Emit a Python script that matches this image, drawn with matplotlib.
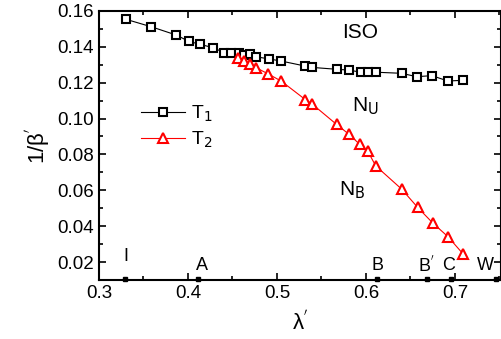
import numpy as np
import matplotlib.pyplot as plt
from matplotlib.ticker import MultipleLocator

plt.rcParams['font.family'] = ['Liberation Sans', 'DejaVu Sans']

# T1 : isotropic / nematic boundary
lam1 = [0.331, 0.359, 0.387, 0.401, 0.414, 0.428, 0.441, 0.448, 0.457, 0.463, 0.470, 0.477,
        0.491, 0.505, 0.532, 0.539, 0.568, 0.581, 0.594, 0.602, 0.611, 0.640, 0.657, 0.674,
        0.692, 0.709]
inv1 = [0.1552, 0.1511, 0.1465, 0.1430, 0.1413, 0.1395, 0.1367, 0.1367, 0.1363, 0.1355,
        0.1358, 0.1344, 0.1332, 0.1320, 0.1292, 0.1285, 0.1274, 0.1270, 0.1258, 0.1258,
        0.1258, 0.1252, 0.1233, 0.1239, 0.1209, 0.1213]

# T2 : uniaxial / biaxial nematic boundary
lam2 = [0.456, 0.463, 0.470, 0.477, 0.490, 0.505, 0.532, 0.539, 0.567, 0.581, 0.593,
        0.602, 0.611, 0.640, 0.658, 0.675, 0.692, 0.709]
inv2 = [0.1340, 0.1318, 0.1304, 0.1282, 0.1249, 0.1208, 0.1105, 0.1083, 0.0967, 0.0912,
        0.0856, 0.0818, 0.0736, 0.0607, 0.0505, 0.0418, 0.0342, 0.0246]

# special points on the lambda' axis
pts_x = [0.329, 0.411, 0.612, 0.669, 0.6955, 0.7457]
pts_lab = ['I', 'A', 'B', "B$^{'}$", 'C', 'W']
lab_x = [0.330, 0.4154, 0.6135, 0.668, 0.6933, 0.7337]
lab_y = [0.023, 0.0183, 0.0183, 0.0183, 0.0183, 0.0183]

fig = plt.figure(figsize=(5.02, 3.39), dpi=100)
ax = fig.add_axes([0.197, 0.174, 0.801, 0.794])

ax.plot(lam1, inv1, 'k-', lw=0.8, marker='s', ms=6, mfc='white', mec='black', mew=1.5,
        label='T$_1$')
ax.plot(lam2, inv2, 'r-', lw=0.8, marker='^', ms=7.5, mfc='white', mec='red', mew=1.5,
        label='T$_2$')

ax.plot(pts_x, [0.0108] * len(pts_x), 'ks', ms=3, clip_on=False, zorder=5)
for x, y, s in zip(lab_x, lab_y, pts_lab):
    ax.text(x, y, s, ha='center', va='center', fontsize=13)

ax.text(0.593, 0.148, 'ISO', ha='center', va='center', fontsize=15)
ax.text(0.599, 0.107, 'N$_\\mathrm{U}$', ha='center', va='center', fontsize=15)
ax.text(0.584, 0.060, 'N$_\\mathrm{B}$', ha='center', va='center', fontsize=15)

ax.set_xlim(0.3, 0.7517)
ax.set_ylim(0.01, 0.16)
ax.xaxis.set_minor_locator(MultipleLocator(0.05))
ax.yaxis.set_minor_locator(MultipleLocator(0.01))
ax.set_yticks(np.arange(0.02, 0.161, 0.02))
ax.set_yticklabels(['%.2f' % v for v in np.arange(0.02, 0.161, 0.02)])
ax.set_xticks([0.3, 0.4, 0.5, 0.6, 0.7])
ax.set_xticklabels(['0.3', '0.4', '0.5', '0.6', '0.7'])
ax.tick_params(which='both', direction='in', top=True, right=True, labelsize=13.5, width=1.2)
ax.tick_params(which='major', length=5)
ax.tick_params(which='minor', length=3)
for sp in ax.spines.values():
    sp.set_linewidth(1.5)

ax.set_xlabel("λ$^{'}$", fontsize=16, labelpad=6)
ax.set_ylabel("1/β$^{'}$", fontsize=16, labelpad=4)

ax.legend(loc='upper left', bbox_to_anchor=(0.06, 0.72), frameon=False, fontsize=14,
          handlelength=2.3, labelspacing=0.3, handletextpad=0.3)

fig.savefig('out.png', dpi=100)
